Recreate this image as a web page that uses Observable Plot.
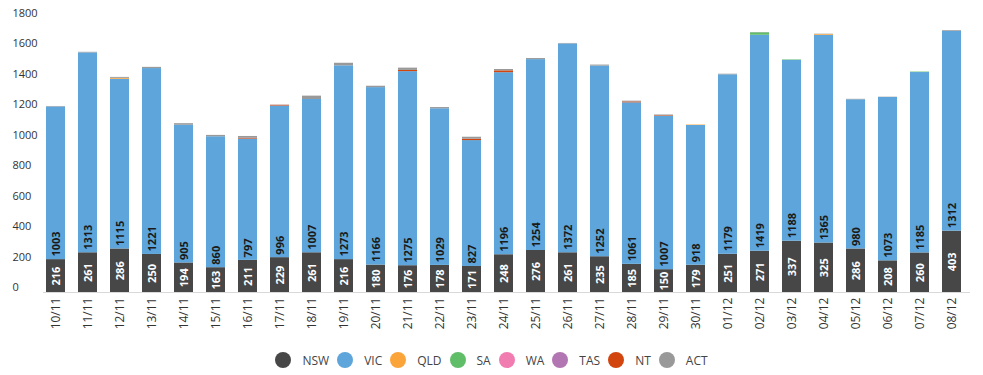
<!DOCTYPE html>
<html><head><meta charset="utf-8">
<script src="https://cdn.jsdelivr.net/npm/d3@7"></script>
<script src="https://cdn.jsdelivr.net/npm/@observablehq/plot@0.6"></script>
<style>
body{margin:0;background:#fff;font-family:"Open Sans",sans-serif;}
#legend{display:flex;justify-content:center;align-items:center;height:20px;margin-top:10px;font-size:12px;color:#444;}
.item{display:flex;align-items:center;margin:0 4px;}
.sw{width:16px;height:16px;border-radius:50%;margin-right:11px;}
</style></head><body>
<div id="chart"></div><div id="legend"></div>
<script>
const dates = ["10/11","11/11","12/11","13/11","14/11","15/11","16/11","17/11","18/11","19/11","20/11","21/11","22/11","23/11","24/11","25/11","26/11","27/11","28/11","29/11","30/11","01/12","02/12","03/12","04/12","05/12","06/12","07/12","08/12"];
const NSW = [216,261,286,250,194,163,211,229,261,216,180,176,178,171,248,276,261,235,185,150,179,251,271,337,325,286,208,260,403];
const VIC = [1003,1313,1115,1221,905,860,797,996,1007,1273,1166,1275,1029,827,1196,1254,1372,1252,1061,1007,918,1179,1419,1188,1365,980,1073,1185,1312];
const QLD = [0,0,6,0,0,0,0,0,0,0,0,0,0,0,0,0,0,0,0,0,3,0,0,0,5,0,0,0,0];
const SA  = [0,0,0,0,0,0,0,0,0,0,0,0,0,0,0,0,0,0,0,0,0,0,16,3,0,0,0,3,0];
const WA  = [0,0,0,0,0,0,0,0,0,0,0,0,0,0,0,0,0,0,0,0,0,0,0,0,0,0,0,0,0];
const TAS = [0,0,0,0,0,0,0,0,0,0,0,0,0,0,0,0,0,0,0,0,0,0,0,0,0,0,0,0,0];
const NT  = [0,0,0,0,0,0,5,5,0,0,0,8,0,9,12,0,0,0,6,4,0,0,0,0,0,0,0,0,0];
const ACT = [3,4,6,8,10,9,12,1,22,17,9,15,8,13,9,7,3,7,5,5,0,4,2,0,2,3,2,0,5];
const yTicks = [0,200,400,600,800,1000,1200,1400,1600,1800];
const states = ["NSW","VIC","QLD","SA","WA","TAS","NT","ACT"];
const colors = ["#474747","#5da5da","#faa43a","#60bd68","#f17cb0","#b276b2","#d2450f","#999999"];

const series = {NSW, VIC, QLD, SA, WA, TAS, NT, ACT};
const rows = [];
dates.forEach((d,i)=>states.forEach(s=>rows.push({date:d,state:s,value:series[s][i]})));
const labels = dates.map((d,i)=>({date:d,nsw:NSW[i],vic:VIC[i]}));

const chart = Plot.plot({
  width:983,height:340,marginLeft:43,marginRight:13,marginTop:18,marginBottom:48,
  style:{fontFamily:"'Open Sans', sans-serif",background:"#fff"},
  x:{type:"band",domain:dates,range:[46.3,961.7],paddingInner:0.406,paddingOuter:0,label:null},
  y:{domain:[0,1800],label:null},
  color:{domain:states,range:colors},
  marks:[
    Plot.barY(rows,{x:"date",y:"value",fill:"state"}),
    Plot.ruleY([0],{stroke:"#d9d9d9"}),
    Plot.axisY({ticks:yTicks,tickFormat:d=>String(d),tickSize:0,tickPadding:0,textAnchor:"start",dx:-31,dy:-5,fontSize:11,fill:"#333",label:null}),
    Plot.axisX({tickSize:0,tickRotate:-90,tickPadding:5,fontSize:12,fill:"#333",label:null}),
    Plot.text(labels,{x:"date",y:d=>d.nsw/2,text:d=>String(d.nsw),rotate:-90,fill:"white",fontWeight:"bold",fontSize:11}),
    Plot.text(labels,{x:"date",y:"nsw",text:d=>String(d.vic),rotate:-90,textAnchor:"start",dy:-3,fill:"#1a1a1a",fontWeight:"bold",fontSize:11})
  ]
});
document.getElementById("chart").appendChild(chart);

const legend = document.getElementById("legend");
states.forEach((s,i)=>{
  const it = document.createElement("div"); it.className="item";
  const sw = document.createElement("span"); sw.className="sw"; sw.style.background=colors[i];
  const tx = document.createElement("span"); tx.textContent=s;
  it.appendChild(sw); it.appendChild(tx); legend.appendChild(it);
});
</script>
</body></html>
